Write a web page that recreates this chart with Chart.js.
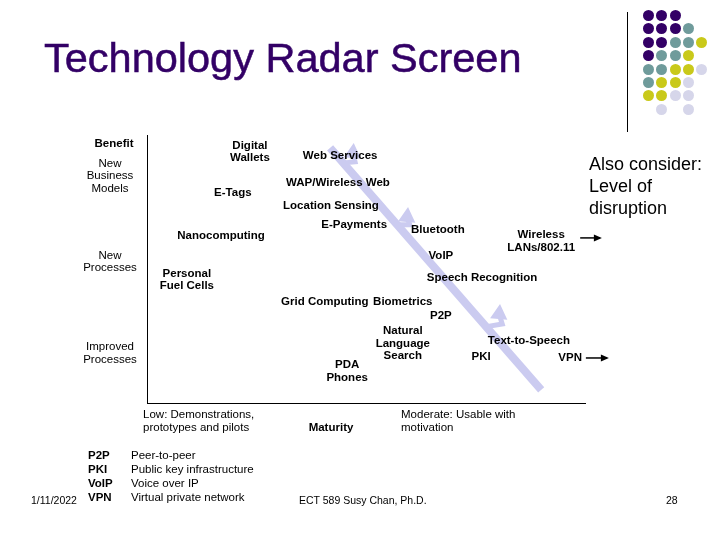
<!DOCTYPE html>
<html>
<head>
<meta charset="utf-8">
<script src="https://cdn.jsdelivr.net/npm/chart.js@4"></script>
<style>
  body { margin: 0; background: #fff; font-family: "Liberation Sans", Arial, sans-serif; }
  #wrap { position: relative; width: 720px; height: 540px; overflow: hidden; }
  #radar { position: absolute; left: 0; top: 0; }
  .t { position: absolute; white-space: nowrap; line-height: 13px; }
  .title { left: 44px; top: 34px; font-size: 41.5px; line-height: 48px; color: #330066; -webkit-text-stroke: 0.5px #330066; }
  .consider { left: 589px; top: 153px; font-size: 18px; line-height: 22px; color: #000; }
  .leg { font-size: 11.5px; color: #000; }
  .leg b { display: inline-block; width: 43px; }
  .foot { font-size: 10.5px; color: #000; }
  .dot { position: absolute; width: 11px; height: 11px; border-radius: 50%; }
  #divider { position: absolute; left: 627px; top: 12px; width: 1px; height: 120px; background: #000; }
</style>
</head>
<body>
<div id="wrap">
  <canvas id="radar" width="720" height="540"></canvas>
  <div class="t title">Technology Radar Screen</div>
  <div id="divider"></div>
  <div id="dots"></div>
  <div class="t consider">Also consider:<br>Level of<br>disruption</div>
  <div class="t leg" style="left:88px;top:449px;"><b>P2P</b>Peer-to-peer</div>
  <div class="t leg" style="left:88px;top:463px;"><b>PKI</b>Public key infrastructure</div>
  <div class="t leg" style="left:88px;top:477px;"><b>VoIP</b>Voice over IP</div>
  <div class="t leg" style="left:88px;top:491px;"><b>VPN</b>Virtual private network</div>
  <div class="t foot" style="left:31px;top:494px;">1/11/2022</div>
  <div class="t foot" style="left:299px;top:494px;">ECT 589 Susy Chan, Ph.D.</div>
  <div class="t foot" style="left:666px;top:494px;">28</div>
</div>
<script>
// technologies on the radar: maturity (x) vs benefit (y), 0-100
const techNames = [
  "Digital\nWallets", "E-Tags", "Nanocomputing", "Personal\nFuel Cells",
  "Web Services", "WAP/Wireless Web", "Location Sensing", "E-Payments",
  "Bluetooth", "Wireless\nLANs/802.11", "VoIP", "Speech Recognition",
  "Grid Computing", "Biometrics", "P2P", "Natural\nLanguage\nSearch",
  "PDA\nPhones", "Text-to-Speech", "PKI", "VPN"
];
const techMaturity = [23.5, 19.6, 16.9, 9.1, 44.1, 43.6, 42.0, 47.3, 66.4, 90.0, 67.1, 76.5, 40.6, 58.4, 67.1, 58.4, 45.7, 87.2, 76.3, 96.6];
const techBenefit = [93.8, 78.4, 62.3, 45.9, 92.2, 82.1, 73.5, 66.4, 64.6, 60.4, 54.9, 46.6, 37.7, 37.7, 32.5, 22.2, 11.9, 23.1, 17.2, 16.8];

// benefit levels (y axis labels)
const benefitLabels = ["New\nBusiness\nModels", "New\nProcesses", "Improved\nProcesses"];
const benefitValues = [84.7, 52.6, 18.5];

// maturity levels (x axis labels, left edge)
const maturityLabels = ["Low: Demonstrations,\nprototypes and pilots", "Moderate: Usable with\nmotivation"];
const maturityValues = [-0.9, 58.0];

// adoption path across the radar, and its branch arrows
const pathX = [41.8, 90.0];
const pathY = [95.2, 4.9];
const branchX = [[45.0, 47.5, 47.0], [57.3, 60.0, 59.4], [77.2, 81.1, 80.4]];
const branchY = [[89.6, 90.0, 93.3], [66.5, 66.5, 69.4], [28.4, 29.5, 33.2]];

// disruption arrows (to the right of the radar)
const disruptX = [[98.9, 103.4], [100.2, 105.0]];
const disruptY = [[61.6, 61.6], [16.8, 16.8]];

// slide decoration dots
const dotColors = { P: "#330066", T: "#6f9b9b", Y: "#c9c91a", L: "#d6d6ea" };
const dotRows = ["PPP..", "PPPT.", "PPTTY", "PTTY.", "TTYYL", "TYYL.", "YYLL.", ".L.L."];

const dotsEl = document.getElementById("dots");
dotRows.forEach((row, r) => {
  row.split("").forEach((c, i) => {
    if (c === ".") return;
    const d = document.createElement("div");
    d.className = "dot";
    d.style.left = (643 + i * 13.3) + "px";
    d.style.top = (10 + r * 13.4) + "px";
    d.style.background = dotColors[c];
    dotsEl.appendChild(d);
  });
});

const lavender = "#cbcbf0";
const toPts = (xs, ys) => xs.map((v, i) => ({ x: v, y: ys[i] }));

const datasets = [
  {
    data: toPts(pathX, pathY),
    showLine: true, borderColor: lavender, borderWidth: 8, pointRadius: 0
  }
];
branchX.forEach((bx, i) => {
  datasets.push({
    data: toPts(bx, branchY[i]),
    showLine: true, borderColor: lavender, borderWidth: 5,
    pointRadius: [0, 0, 5], pointStyle: "triangle",
    pointBackgroundColor: lavender, pointBorderColor: lavender, rotation: 5
  });
});
const arrowStart = datasets.length;
disruptX.forEach((dx, i) => {
  datasets.push({
    data: toPts(dx, disruptY[i]),
    showLine: true, borderColor: "#000", borderWidth: 1.5, clip: false,
    pointRadius: 0
  });
});
datasets.push({
  data: toPts(techMaturity, techBenefit),
  pointRadius: 0, showLine: false
});

const drawLines = (ctx, text, x, y, lh, align) => {
  const lines = text.split("\n");
  ctx.textAlign = align;
  lines.forEach((ln, i) => {
    ctx.fillText(ln, x, y + (i - (lines.length - 1) / 2) * lh);
  });
};

const labelPlugin = {
  id: "radarLabels",
  afterDatasetsDraw(chart) {
    const { ctx, scales: { x, y } } = chart;
    ctx.save();
    ctx.fillStyle = "#000";

    // arrowheads for the disruption arrows (they sit outside the plot area)
    disruptX.forEach((dx, i) => {
      const pts = chart.getDatasetMeta(arrowStart + i).data;
      const tip = pts[pts.length - 1];
      ctx.beginPath();
      ctx.moveTo(tip.x + 2, tip.y);
      ctx.lineTo(tip.x - 6, tip.y - 3.5);
      ctx.lineTo(tip.x - 6, tip.y + 3.5);
      ctx.closePath();
      ctx.fill();
    });

    ctx.textBaseline = "middle";
    ctx.font = "bold 11.5px 'Liberation Sans', Arial, sans-serif";
    techNames.forEach((name, i) => {
      drawLines(ctx, name, x.getPixelForValue(techMaturity[i]), y.getPixelForValue(techBenefit[i]), 12.5, "center");
    });

    // axis titles
    ctx.fillText("Benefit", 114, 144);
    ctx.fillText("Maturity", 331, 428);

    ctx.font = "11.5px 'Liberation Sans', Arial, sans-serif";
    benefitLabels.forEach((lab, i) => {
      drawLines(ctx, lab, 110, y.getPixelForValue(benefitValues[i]), 12.5, "center");
    });
    maturityLabels.forEach((lab, i) => {
      drawLines(ctx, lab, x.getPixelForValue(maturityValues[i]), 421.5, 13, "left");
    });
    ctx.restore();
  }
};

new Chart(document.getElementById("radar"), {
  type: "scatter",
  data: { datasets: datasets },
  plugins: [labelPlugin],
  options: {
    responsive: false,
    animation: false,
    devicePixelRatio: 1,
    layout: { padding: { left: 147, right: 135, top: 135, bottom: 137 } },
    plugins: { legend: { display: false }, tooltip: { enabled: false } },
    scales: {
      x: {
        min: 0, max: 100,
        ticks: { display: false },
        grid: { display: false, drawTicks: false },
        border: { display: true, color: "#000", width: 1 }
      },
      y: {
        min: 0, max: 100,
        ticks: { display: false },
        grid: { display: false, drawTicks: false },
        border: { display: true, color: "#000", width: 1 }
      }
    }
  }
});
</script>
</body>
</html>
